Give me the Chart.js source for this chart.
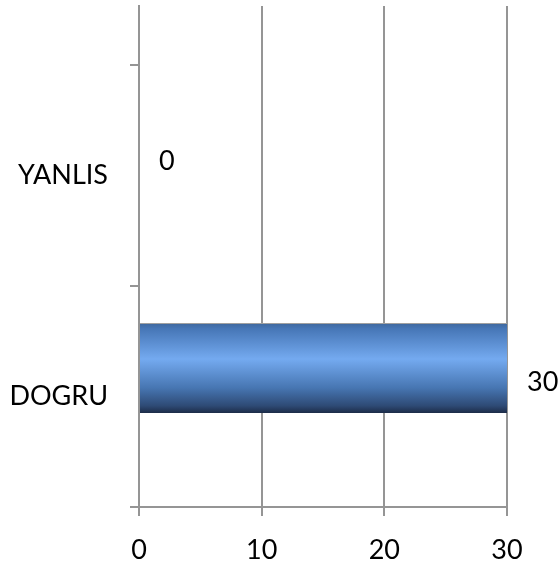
<!DOCTYPE html>
<html>
<head>
<meta charset="utf-8">
<script src="https://cdn.jsdelivr.net/npm/chart.js@4"></script>
<style>
  html, body { margin: 0; padding: 0; background: #fff; }
  #wrap { width: 560px; height: 570px; }
</style>
</head>
<body>
<div id="wrap"><canvas id="c" width="560" height="570"></canvas></div>
<script>
// Answers counted per category (bottom to top on the axis)
const categories = ['DOGRU', 'YANLIS'];
const answerCounts = [30, 0];
const xTicks = [0, 10, 20, 30];

const FONT = 'Lato, "Open Sans", sans-serif';
const FONT_SIZE = 27;
const AXIS_GREY = '#959595';

// Each category occupies one unit band on the value-based y axis; bars sit at the band middle
const points = categories.map((c, i) => ({ x: answerCounts[i], y: i + 0.5 }));

// Glossy vertical shading of each bar, fitted to the bar's own height
const barShading = {
  id: 'barShading',
  beforeDatasetsDraw(chart) {
    const c = chart.ctx;
    chart.getDatasetMeta(0).data.forEach(bar => {
      const top = bar.y - bar.height / 2;
      const g = c.createLinearGradient(0, top, 0, top + bar.height);
      g.addColorStop(0, '#3e679c');
      g.addColorStop(0.06, '#4676b6');
      g.addColorStop(0.40, '#74aaf0');
      g.addColorStop(0.72, '#4776b2');
      g.addColorStop(0.92, '#2e4a75');
      g.addColorStop(1, '#1c2c48');
      try { bar.options.backgroundColor = g; } catch (e) { /* keep flat colour */ }
    });
  }
};

// Value labels written to the right of each bar end
const valueLabels = {
  id: 'valueLabels',
  afterDatasetsDraw(chart) {
    const meta = chart.getDatasetMeta(0);
    const c = chart.ctx;
    c.save();
    c.font = FONT_SIZE + 'px ' + FONT;
    c.fillStyle = '#000';
    c.textAlign = 'left';
    c.textBaseline = 'middle';
    meta.data.forEach((bar, i) => {
      c.fillText(String(answerCounts[i]), bar.x + 20, bar.y + 14);
    });
    c.restore();
  }
};

new Chart(document.getElementById('c'), {
  type: 'bar',
  data: {
    datasets: [
      {
        label: 'Seri 1',
        data: points,
        backgroundColor: () => '#4f81bd',
        borderColor: '#a0a0a0',
        borderWidth: { top: 1, bottom: 0, left: 0, right: 0 },
        borderSkipped: 'left'
      },
      {
        label: 'Seri 2',
        data: categories.map((c, i) => ({ x: null, y: i + 0.5 })),
        backgroundColor: 'rgba(0,0,0,0)'
      }
    ]
  },
  options: {
    indexAxis: 'y',
    responsive: false,
    animation: false,
    events: [],
    layout: { padding: { top: 6, right: 53, left: 0, bottom: 0 } },
    datasets: { bar: { categoryPercentage: 1.03, barPercentage: 1.58 } },
    plugins: { legend: { display: false }, tooltip: { enabled: false } },
    scales: {
      x: {
        type: 'linear',
        min: 0,
        max: 30,
        afterBuildTicks(scale) { scale.ticks = xTicks.map(v => ({ value: v })); },
        grid: {
          color: AXIS_GREY,
          lineWidth: 2,
          tickLength: 9,
          tickColor: AXIS_GREY
        },
        border: { display: true, color: AXIS_GREY, width: 2 },
        ticks: {
          color: '#000',
          font: { family: FONT, size: FONT_SIZE },
          padding: 18,
          maxRotation: 0
        },
        afterFit(scale) { scale.height = 63; }
      },
      y: {
        type: 'linear',
        offset: false,
        min: 0,
        max: 2.267,
        afterBuildTicks(scale) {
          const t = [];
          for (let i = 0; i <= categories.length; i++) {
            t.push({ value: i });
            if (i < categories.length) t.push({ value: i + 0.5 });
          }
          scale.ticks = t;
        },
        grid: {
          offset: false,
          drawOnChartArea: false,
          tickLength: 9,
          lineWidth: 2,
          tickColor: ctx => (ctx.tick && Number.isInteger(ctx.tick.value)) ? AXIS_GREY : 'rgba(0,0,0,0)'
        },
        border: { display: true, color: AXIS_GREY, width: 2 },
        ticks: {
          color: '#000',
          font: { family: FONT, size: FONT_SIZE },
          padding: 22,
          autoSkip: false,
          callback(v) {
            const i = Math.floor(v);
            return (v - i === 0.5 && categories[i]) ? categories[i] : '';
          }
        },
        afterFit(scale) { scale.width = 139; scale.paddingTop = 0; scale.paddingBottom = 0; }
      }
    }
  },
  plugins: [barShading, valueLabels]
});
</script>
</body>
</html>
